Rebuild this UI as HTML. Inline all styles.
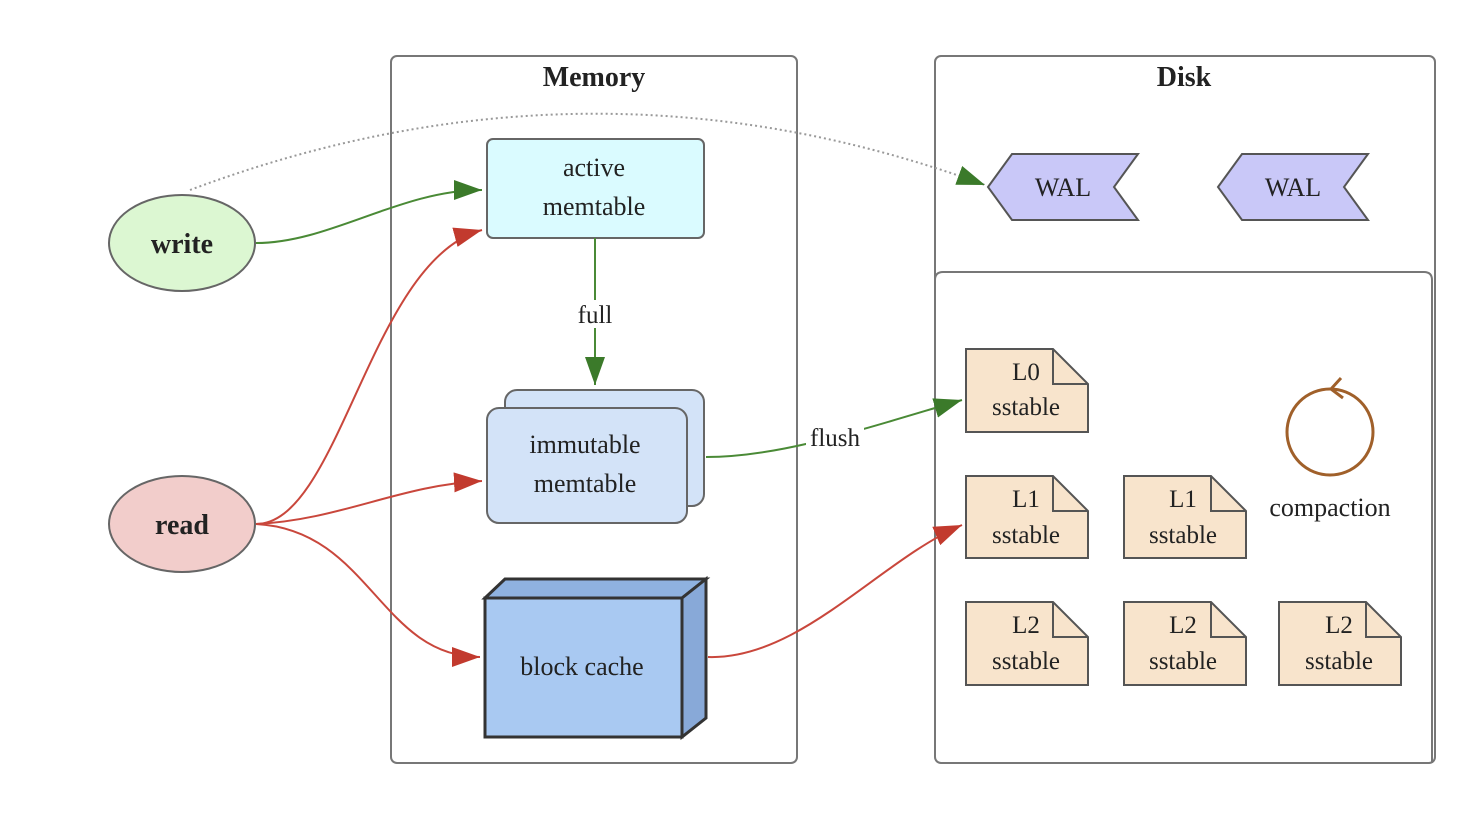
<!DOCTYPE html>
<html><head><style>body{margin:0;background:#fff}svg{display:block}text{font-family:"Liberation Serif",serif;fill:#222}</style></head><body>
<svg width="1478" height="822" viewBox="0 0 1478 822" xmlns="http://www.w3.org/2000/svg">
<defs>
<marker id="g" markerWidth="28" markerHeight="20" refX="10" refY="5" orient="auto" markerUnits="userSpaceOnUse" viewBox="0 0 10 10" preserveAspectRatio="none"><path d="M0,0L10,5L0,10z" fill="#3b7a2a"/></marker>
<marker id="r" markerWidth="28" markerHeight="20" refX="10" refY="5" orient="auto" markerUnits="userSpaceOnUse" viewBox="0 0 10 10" preserveAspectRatio="none"><path d="M0,0L10,5L0,10z" fill="#c23a2e"/></marker>
</defs>
<style>.g{stroke:#4a8a36;stroke-width:2;fill:none}.r{stroke:#c9473c;stroke-width:2;fill:none}</style>
<rect x="391" y="56" width="406" height="707" rx="6" fill="#fff" stroke="#777" stroke-width="2"/>
<rect x="935" y="56" width="500" height="707" rx="6" fill="#fff" stroke="#777" stroke-width="2"/>
<path d="M935,280 Q935,272 943,272 L1424,272 Q1432,272 1432,280 L1432,763" fill="none" stroke="#777" stroke-width="2"/>
<text x="594" y="86" font-size="28" font-weight="bold" text-anchor="middle">Memory</text>
<text x="1184" y="86" font-size="28" font-weight="bold" text-anchor="middle">Disk</text>
<path d="M190,190 Q590,40 985,185" fill="none" stroke="#999" stroke-width="2" stroke-dasharray="2,3" marker-end="url(#g)"/>
<ellipse cx="182" cy="243" rx="73" ry="48" fill="#dcf7d2" stroke="#666" stroke-width="2"/>
<text x="182" y="253" font-size="28" font-weight="bold" text-anchor="middle">write</text>
<ellipse cx="182" cy="524" rx="73" ry="48" fill="#f2cdcb" stroke="#666" stroke-width="2"/>
<text x="182" y="534" font-size="28" font-weight="bold" text-anchor="middle">read</text>
<rect x="487" y="139" width="217" height="99" rx="6" fill="#dafbff" stroke="#666" stroke-width="2"/>
<text x="594" y="176" font-size="26" text-anchor="middle">active</text>
<text x="594" y="215" font-size="26" text-anchor="middle">memtable</text>
<rect x="505" y="390" width="199" height="116" rx="12" fill="#d3e3f8" stroke="#666" stroke-width="2"/>
<rect x="487" y="408" width="200" height="115" rx="12" fill="#d3e3f8" stroke="#666" stroke-width="2"/>
<text x="585" y="453" font-size="26" text-anchor="middle">immutable</text>
<text x="585" y="492" font-size="26" text-anchor="middle">memtable</text>
<path d="M485,598L505,579L706,579L682,598z" fill="#8fb2e0" stroke="#333" stroke-width="3"/>
<path d="M682,598L706,579L706,718L682,737z" fill="#88a9d8" stroke="#333" stroke-width="3"/>
<rect x="485" y="598" width="197" height="139" fill="#a9c9f2" stroke="#333" stroke-width="3"/>
<text x="582" y="675" font-size="26" text-anchor="middle">block cache</text>
<path d="M988,187L1012,154L1138,154L1114,187L1138,220L1012,220z" fill="#c9c8f8" stroke="#555" stroke-width="2"/>
<text x="1063" y="196" font-size="26" text-anchor="middle">WAL</text>
<path d="M1218,187L1242,154L1368,154L1344,187L1368,220L1242,220z" fill="#c9c8f8" stroke="#555" stroke-width="2"/>
<text x="1293" y="196" font-size="26" text-anchor="middle">WAL</text>
<g fill="#f8e4cc" stroke="#555" stroke-width="2">
<path d="M966,349H1053L1088,384V432H966z"/><path d="M1053,349V384H1088" fill="none"/>
<path d="M966,476H1053L1088,511V558H966z"/><path d="M1053,476V511H1088" fill="none"/>
<path d="M1124,476H1211L1246,511V558H1124z"/><path d="M1211,476V511H1246" fill="none"/>
<path d="M966,602H1053L1088,637V685H966z"/><path d="M1053,602V637H1088" fill="none"/>
<path d="M1124,602H1211L1246,637V685H1124z"/><path d="M1211,602V637H1246" fill="none"/>
<path d="M1279,602H1366L1401,637V685H1279z"/><path d="M1366,602V637H1401" fill="none"/>
</g>
<g font-size="25" text-anchor="middle">
<text x="1026" y="380">L0</text><text x="1026" y="415">sstable</text>
<text x="1026" y="507">L1</text><text x="1026" y="543">sstable</text>
<text x="1183" y="507">L1</text><text x="1183" y="543">sstable</text>
<text x="1026" y="633">L2</text><text x="1026" y="669">sstable</text>
<text x="1183" y="633">L2</text><text x="1183" y="669">sstable</text>
<text x="1339" y="633">L2</text><text x="1339" y="669">sstable</text>
</g>
<circle cx="1330" cy="432" r="43" fill="none" stroke="#a0602a" stroke-width="3"/>
<path d="M1341,378L1331,389L1343,398" fill="none" stroke="#a0602a" stroke-width="3"/>
<text x="1330" y="516" font-size="26" text-anchor="middle">compaction</text>
<path class="g" d="M256,243C330,243 400,190 482,190" marker-end="url(#g)"/>
<path class="g" d="M595,238V385" marker-end="url(#g)"/>
<rect x="572" y="300" width="46" height="28" fill="#fff"/>
<text x="595" y="323" font-size="25" text-anchor="middle">full</text>
<path class="g" d="M706,457C780,457 860,430 962,400" marker-end="url(#g)"/>
<rect x="806" y="424" width="58" height="28" fill="#fff"/>
<text x="835" y="446" font-size="25" text-anchor="middle">flush</text>
<path class="r" d="M256,524C340,524 370,260 482,230" marker-end="url(#r)"/>
<path class="r" d="M256,524C340,520 400,485 482,481" marker-end="url(#r)"/>
<path class="r" d="M256,524C370,530 380,657 480,657" marker-end="url(#r)"/>
<path class="r" d="M708,657C800,660 880,560 962,525" marker-end="url(#r)"/>
</svg>
</body></html>
